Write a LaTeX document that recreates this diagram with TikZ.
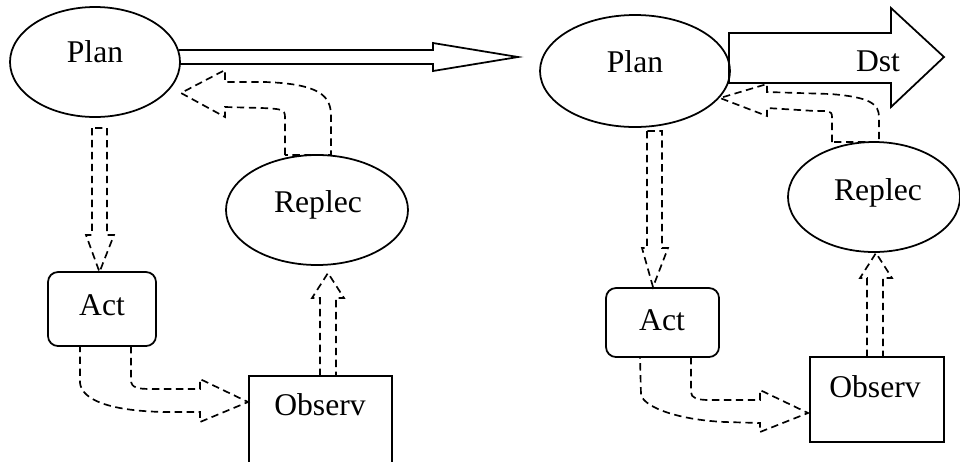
\documentclass[tikz,border=0pt]{standalone}
\usepackage{fontspec}
\setmainfont{Liberation Serif}
\usetikzlibrary{shapes.geometric}
\begin{document}
\begin{tikzpicture}[x=0.02cm,y=-0.02cm,
  solidline/.style={line width=1pt, line join=miter},
  dashedblock/.style={line width=0.95pt, dash pattern=on 4.2pt off 2.6pt, line join=miter},
  ell/.style={draw, solidline, ellipse, inner sep=0pt, font=\fontsize{18}{20}\selectfont},
  box/.style={draw, solidline, rectangle, inner sep=0pt, font=\fontsize{18}{20}\selectfont},
  lbl/.style={inner sep=0pt, font=\fontsize{18}{20}\selectfont}]
\clip (0,0) rectangle (960,461);
\fill[white] (0,0) rectangle (960,461);

% ---------- left diagram ----------
\node[ell, minimum width=170*0.02cm, minimum height=110*0.02cm] (planL) at (95,62) {};
\node[lbl] (planLt) at (95,52) {Plan};
\node[ell, minimum width=182*0.02cm, minimum height=110*0.02cm] (replecL) at (317,210) {};
\node[lbl] (replecLt) at (318,205) {Replec};
\node[box, rounded corners=0.2cm, minimum width=108*0.02cm, minimum height=74*0.02cm] (actL) at (102,309) {};
\node[lbl] (actLt) at (102,305) {Act};
\node[box, minimum width=143*0.02cm, minimum height=110*0.02cm] (observL) at (320.5,431) {};
\node[lbl] (observLt) at (320,405) {Observ};

% long thin arrow
\draw[solidline] (179,50) -- (433,50) -- (433,43) -- (518,57) -- (433,71) -- (433,64) -- (179,64);

% Replec -> Plan (left)
\draw[dashedblock] (285,155) -- (285,117) .. controls (285,109) and (281,109) .. (262,108) -- (225,107)
  -- (225,117) -- (181,93) -- (225,70) -- (225,82) -- (265,82)
  .. controls (320,84) and (331,96) .. (331,116) -- (331,155) -- cycle;
% Plan -> Act (left)
\draw[dashedblock] (92,128) -- (92,235) -- (86,235) -- (99.5,272) -- (114,235) -- (107,235) -- (107,128) -- cycle;
% Observ -> Replec (left)
\draw[dashedblock] (320,376) -- (320,298) -- (312,298) -- (328,273) -- (344,298) -- (336,298) -- (336,376) -- cycle;
% Act -> Observ (left)
\draw[dashedblock] (131,346) -- (131,380) .. controls (131,388) and (138,389) .. (152,389) -- (200,389)
  -- (200,379) -- (248,402) -- (200,422) -- (200,412) -- (165,412)
  .. controls (110,411) and (82,400) .. (80,383) -- (80,346) -- cycle;

% ---------- right diagram ----------
\node[ell, minimum width=190*0.02cm, minimum height=112*0.02cm] (planR) at (635,71) {};
\node[lbl] (planRt) at (635,62) {Plan};
\node[ell, minimum width=172*0.02cm, minimum height=110*0.02cm] (replecR) at (874,197) {};
\node[lbl] (replecRt) at (878,193) {Replec};
\node[box, rounded corners=0.2cm, minimum width=113*0.02cm, minimum height=69*0.02cm] (actR) at (662.5,322.5) {};
\node[lbl] (actRt) at (662,320) {Act};
\node[box, minimum width=134*0.02cm, minimum height=85*0.02cm] (observR) at (877,399.5) {};
\node[lbl] (observRt) at (875,387) {Observ};

% big arrow
\draw[solidline] (729,33) -- (891,33) -- (891,8) -- (944,57) -- (891,107) -- (891,83) -- (729,83) -- cycle;
\node[lbl] (dst) at (878,61) {Dst};

% Replec -> Plan (right)
\draw[dashedblock] (832,142) -- (832,117) .. controls (832,110) and (828,111) .. (815,111) -- (767,108)
  -- (767,116) -- (720,98) -- (767,84) -- (767,92) -- (830,94)
  .. controls (870,97) and (879,104) .. (879,117) -- (879,142) -- cycle;
% Plan -> Act (right)
\draw[dashedblock] (647,131) -- (647,248) -- (642,248) -- (653,287) -- (668,248) -- (662,248) -- (662,131) -- cycle;
% Observ -> Replec (right)
\draw[dashedblock] (867,357) -- (867,278) -- (860,278) -- (876,253) -- (892,278) -- (883,278) -- (883,357) -- cycle;
% Act -> Observ (right)
\draw[dashedblock] (691,357) -- (691,392) .. controls (691,398) and (697,400) .. (710,400) -- (760,400)
  -- (760,390) -- (808,413) -- (760,432) -- (760,423) -- (725,422)
  .. controls (680,420) and (645,408) .. (641,395) -- (640,357) -- cycle;
\end{tikzpicture}
\end{document}
